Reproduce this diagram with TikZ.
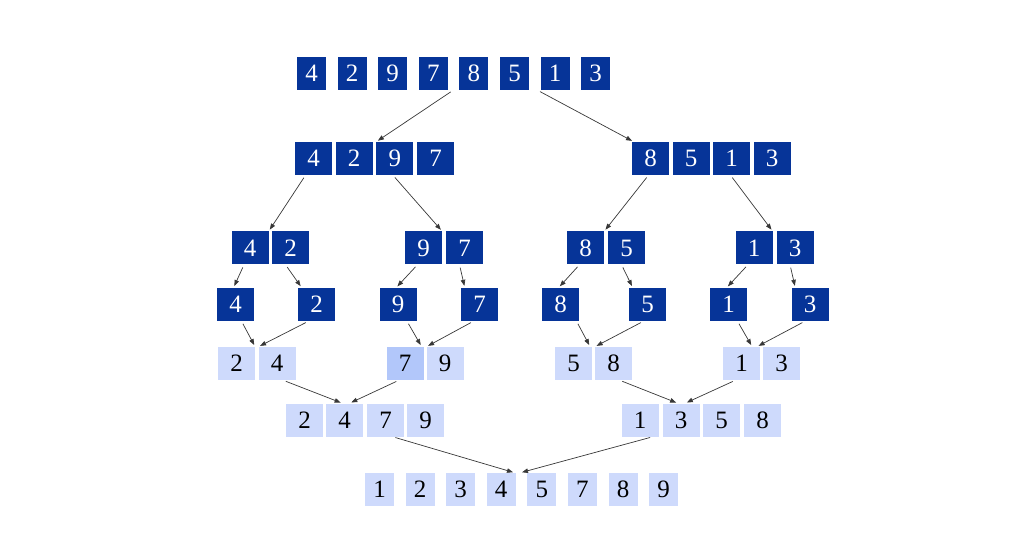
\documentclass[tikz,border=0pt]{standalone}
\usepackage{fontspec}
\setmainfont{Liberation Serif}
\usetikzlibrary{arrows.meta,positioning}
\definecolor{db}{RGB}{6,52,152}
\definecolor{lb}{RGB}{206,218,252}
\definecolor{mb}{RGB}{178,199,250}
\definecolor{ag}{RGB}{55,55,55}
\tikzset{dk/.style={fill=db,text=white,minimum width=37pt,minimum height=33pt,inner sep=0pt},
 ds/.style={dk,minimum width=29pt},
 lt/.style={dk,fill=lb,text=black},ls/.style={lt,minimum width=29pt},md/.style={lt,fill=mb},
 arr/.style={-{Triangle[length=6pt,width=4.5pt]},line width=.7pt,draw=ag,shorten <=3pt,shorten >=2pt},
 every node/.style={font=\fontsize{25}{30}\selectfont}}
\begin{document}
\begin{tikzpicture}[x=1pt,y=-1pt]
\useasboundingbox (0,0) rectangle (1024,534);
% split
\node[ds] (s1) at (311.5,73.5) {4};\node[ds] (s2) at (352.1,73.5) {2};\node[ds] (s3) at (392.7,73.5) {9};\node[ds] (s4) at (433.3,73.5) {7};
\node[ds] (s5) at (473.9,73.5) {8};\node[ds] (s6) at (514.5,73.5) {5};\node[ds] (s7) at (555.1,73.5) {1};\node[ds] (s8) at (595.7,73.5) {3};
\node[dk] (p1) at (313.5,158.5) {4};\node[dk] (p2) at (354.2,158.5) {2};\node[dk] (p3) at (394.9,158.5) {9};\node[dk] (p4) at (435.6,158.5) {7};
\node[dk] (p5) at (650.5,158.5) {8};\node[dk] (p6) at (691,158.5) {5};\node[dk] (p7) at (731.5,158.5) {1};\node[dk] (p8) at (772,158.5) {3};
\node[dk] (q1) at (250,248) {4};\node[dk] (q2) at (290.5,248) {2};\node[dk] (q3) at (423.5,248) {9};\node[dk] (q4) at (464.5,248) {7};
\node[dk] (q5) at (585.5,248) {8};\node[dk] (q6) at (626.5,248) {5};\node[dk] (q7) at (754,248) {1};\node[dk] (q8) at (795,248) {3};
\node[dk] (u1) at (235.5,304.5) {4};\node[dk] (u2) at (316.5,304.5) {2};\node[dk] (u3) at (398,304.5) {9};\node[dk] (u4) at (479.5,304.5) {7};
\node[dk] (u5) at (560.5,304.5) {8};\node[dk] (u6) at (647.5,304.5) {5};\node[dk] (u7) at (728.5,304.5) {1};\node[dk] (u8) at (810,304.5) {3};
% merge
\node[lt] (m1) at (236.5,363.5) {2};\node[lt] (m2) at (277,363.5) {4};\node[md] (m3) at (405,363.5) {7};\node[lt] (m4) at (445,363.5) {9};
\node[lt] (m5) at (573.5,363.5) {5};\node[lt] (m6) at (613.5,363.5) {8};\node[lt] (m7) at (741.5,363.5) {1};\node[lt] (m8) at (781.5,363.5) {3};
\node[lt] (n1) at (304.5,420) {2};\node[lt] (n2) at (344.5,420) {4};\node[lt] (n3) at (385.5,420) {7};\node[lt] (n4) at (425.5,420) {9};
\node[lt] (n5) at (640,420) {1};\node[lt] (n6) at (681,420) {3};\node[lt] (n7) at (721.5,420) {5};\node[lt] (n8) at (762.5,420) {8};
\node[ls] (f1) at (379.5,489.5) {1};\node[ls] (f2) at (420,489.5) {2};\node[ls] (f3) at (460.6,489.5) {3};\node[ls] (f4) at (501.2,489.5) {4};
\node[ls] (f5) at (541.8,489.5) {5};\node[ls] (f6) at (582.4,489.5) {7};\node[ls] (f7) at (623,489.5) {8};\node[ls] (f8) at (663.6,489.5) {9};
\foreach \a/\sa/\b/\sb in {s5.south west/-6/p3.north west/0,s7.south west/-3/p5.north west/2,
 p1.south/-8/q1.north east/0,p3.south/-2/q3.north east/0,p5.south/-2/q5.north east/0,p7.south/-1/q7.north east/0,
 q1.south/-6/u1.north/-2,q2.south/-5/u2.north west/4,q3.south/-6/u3.north/-2,q4.south/-5/u4.north west/4,
 q5.south/-6/u5.north/-2,q6.south/-5/u6.north west/4,q7.south/-6/u7.north/-2,q8.south/-5/u8.north west/4,
 u1.south/6/m1.north east/0,u2.south/-8/m2.north west/0,u3.south/9/m3.north east/-2,u4.south/-6/m4.north west/0,
 u5.south/16/m5.north east/-2,u6.south/-4/m6.north west/0,u7.south/9/m7.north east/-8,u8.south/-5/m8.north west/-6,
 m2.south/6/n2.north/-2,m3.south/-6/n2.north/5,m6.south/6/n6.north/-3,m7.south/-6/n6.north/4,
 n3.south/7/f4.north east/-1,n5.south/13/f5.north west/-7}{\draw[arr] ([xshift=\sa]\a)--([xshift=\sb]\b);}
\end{tikzpicture}
\end{document}
